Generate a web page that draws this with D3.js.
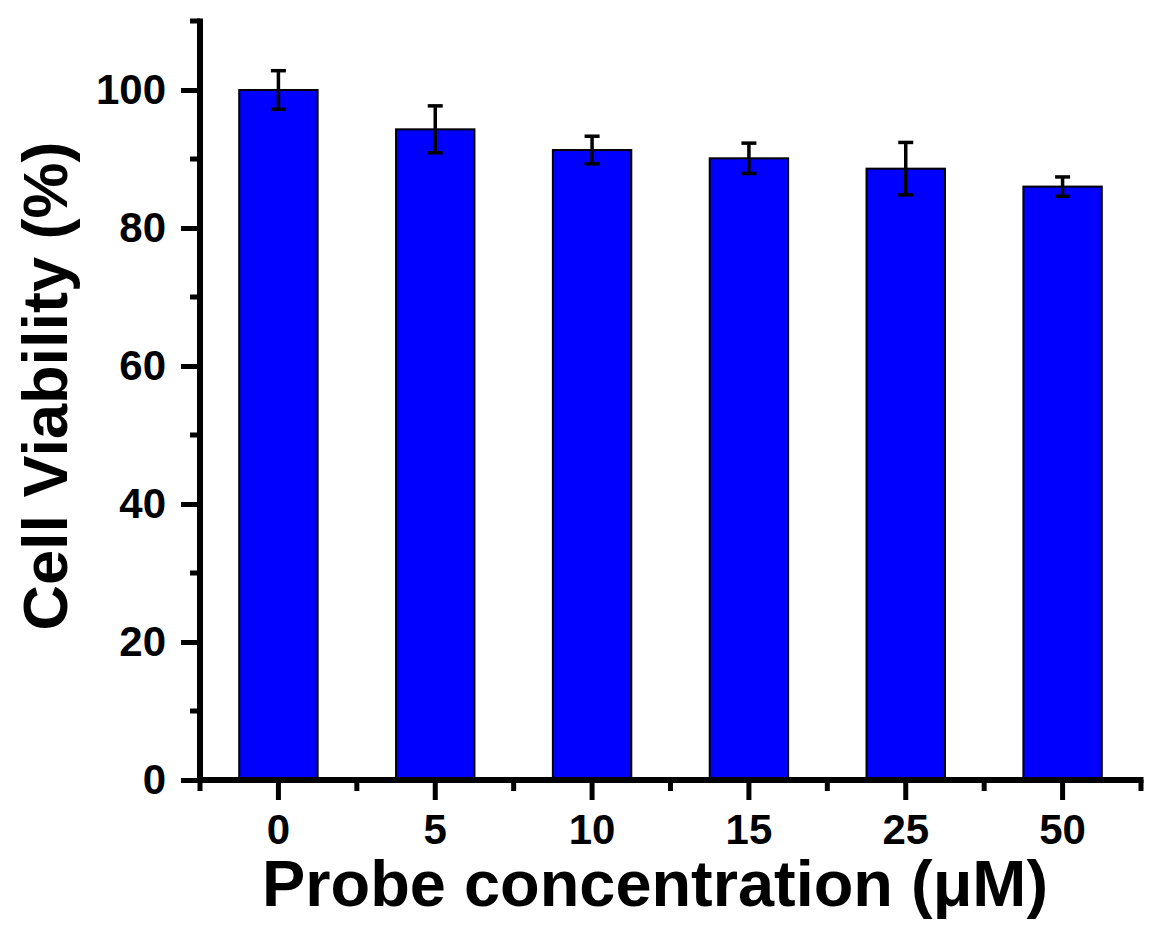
<!DOCTYPE html>
<html>
<head>
<meta charset="utf-8">
<script src="https://cdn.jsdelivr.net/npm/d3@7"></script>
<style>
  body { margin: 0; background: #fff; }
  svg text { font-family: "Liberation Sans", Arial, sans-serif; font-weight: bold; }
</style>
</head>
<body>
<div id="vis-svg"></div>
<script>
// data
const concentrations = ["0", "5", "10", "15", "25", "50"];
const viability = [100, 94.3, 91.3, 90.1, 88.6, 86.0];
const errors = [2.8, 3.4, 2.0, 2.2, 3.8, 1.4];
const majorTicks = [0, 20, 40, 60, 80, 100];
const minorTicks = [10, 30, 50, 70, 90, 110];

const width = 1149, height = 925;
const plot = { left: 200, right: 1141, top: 15, bottom: 780 };

let svg = d3.select("#vis-svg").append("svg")
  .attr("width", width)
  .attr("height", height);

let x = d3.scaleBand()
  .domain(concentrations)
  .range([plot.left, plot.right])
  .paddingInner(0.5)
  .paddingOuter(0.25);

let y = d3.scaleLinear()
  .domain([0, 110])
  .range([plot.bottom, plot.bottom - 110 * 6.9]);

// bars
svg.selectAll("rect.bar")
  .data(concentrations)
  .enter().append("rect")
    .attr("class", "bar")
    .attr("x", d => x(d))
    .attr("width", x.bandwidth())
    .attr("y", (d, i) => y(viability[i]))
    .attr("height", (d, i) => y(0) - y(viability[i]))
    .attr("fill", "#0000ff")
    .attr("stroke", "#000")
    .attr("stroke-width", 2);

// error bars
let err = svg.selectAll("g.err")
  .data(concentrations)
  .enter().append("g")
    .attr("class", "err")
    .attr("stroke", "#000")
    .attr("stroke-width", 3.5);

err.append("line")
  .attr("x1", d => x(d) + x.bandwidth() / 2)
  .attr("x2", d => x(d) + x.bandwidth() / 2)
  .attr("y1", (d, i) => y(viability[i] + errors[i]))
  .attr("y2", (d, i) => y(viability[i] - errors[i]));

[1, -1].forEach(function (s) {
  err.append("line")
    .attr("x1", d => x(d) + x.bandwidth() / 2 - 7.5)
    .attr("x2", d => x(d) + x.bandwidth() / 2 + 7.5)
    .attr("y1", (d, i) => y(viability[i] + s * errors[i]))
    .attr("y2", (d, i) => y(viability[i] + s * errors[i]));
});

// y axis
let yAxis = svg.append("g")
  .attr("transform", "translate(" + plot.left + ",0)")
  .call(d3.axisLeft(y).tickValues(majorTicks).tickSize(19).tickSizeOuter(0).tickPadding(15));
yAxis.select(".domain").remove();
yAxis.selectAll(".tick line").attr("stroke-width", 5);
yAxis.selectAll(".tick text").attr("font-size", 42).attr("fill", "#000");

svg.append("g").selectAll("line")
  .data(minorTicks)
  .enter().append("line")
    .attr("x1", plot.left - 10)
    .attr("x2", plot.left)
    .attr("y1", d => y(d))
    .attr("y2", d => y(d))
    .attr("stroke", "#000")
    .attr("stroke-width", 5);

svg.append("line")
  .attr("x1", plot.left)
  .attr("x2", plot.left)
  .attr("y1", y(110) - 2.5)
  .attr("y2", y(0) + 3)
  .attr("stroke", "#000")
  .attr("stroke-width", 6);

// x axis
let xAxis = svg.append("g")
  .attr("transform", "translate(0," + plot.bottom + ")")
  .call(d3.axisBottom(x).tickSize(20).tickSizeOuter(0).tickPadding(14));
xAxis.select(".domain").remove();
xAxis.selectAll(".tick line").attr("stroke-width", 5);
xAxis.selectAll(".tick text").attr("font-size", 42).attr("fill", "#000");

let step = x.step();
let bounds = concentrations.map(d => x(d) + x.bandwidth() / 2 - step / 2)
  .concat([x(concentrations[concentrations.length - 1]) + x.bandwidth() / 2 + step / 2]);

svg.append("g").selectAll("line")
  .data(bounds)
  .enter().append("line")
    .attr("x1", d => d)
    .attr("x2", d => d)
    .attr("y1", plot.bottom)
    .attr("y2", plot.bottom + 11)
    .attr("stroke", "#000")
    .attr("stroke-width", 5);

svg.append("line")
  .attr("x1", plot.left - 3)
  .attr("x2", plot.right + 2.5)
  .attr("y1", plot.bottom)
  .attr("y2", plot.bottom)
  .attr("stroke", "#000")
  .attr("stroke-width", 6);

// axis titles
svg.append("text")
  .attr("x", 655)
  .attr("y", 906)
  .attr("text-anchor", "middle")
  .attr("font-size", 64)
  .attr("textLength", 786)
  .attr("lengthAdjust", "spacingAndGlyphs")
  .text("Probe concentration (\u03bcM)");

svg.append("text")
  .attr("transform", "translate(67,386) rotate(-90)")
  .attr("text-anchor", "middle")
  .attr("font-size", 63)
  .text("Cell Viability (%)");
</script>
</body>
</html>
